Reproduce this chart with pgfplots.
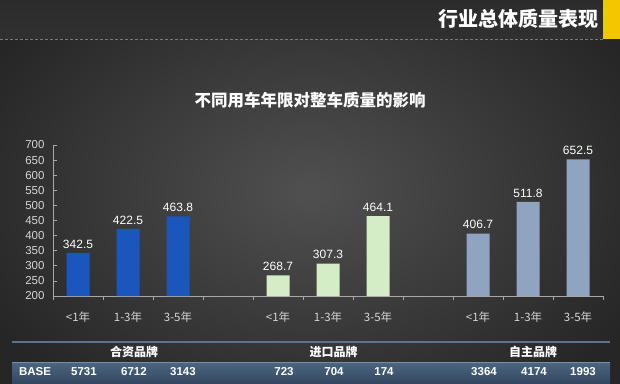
\documentclass[border=0pt]{standalone}
\usepackage{pgfplots}
\pgfplotsset{compat=1.18}
\usepackage{fontspec}
\setmainfont{Liberation Sans}
\newfontfamily\cjk{Noto Sans CJK SC}
\definecolor{cblue}{HTML}{1A56BC}
\definecolor{cgreen}{HTML}{D5EDC6}
\definecolor{cgrey}{HTML}{8EA4C0}
\definecolor{ticktxt}{HTML}{D6D6D6}
\definecolor{axgray}{HTML}{A8A8A8}
\definecolor{bgin}{HTML}{505050}
\definecolor{bgout}{HTML}{262626}
\definecolor{hdr}{HTML}{303030}
\definecolor{dashc}{HTML}{7A7A7A}
\definecolor{ylw}{HTML}{F4C600}
\definecolor{sepc}{HTML}{5A7390}
\definecolor{bandtop}{HTML}{4B6683}
\definecolor{bandbot}{HTML}{33485F}
\definecolor{bandline}{HTML}{7590AE}
\begin{document}
\begin{tikzpicture}[x=1pt,y=1pt]
% background
\shade[inner color=bgin, outer color=bgout] (-60,-60) rectangle (680,443);
\shade[top color=hdr!90!black, bottom color=hdr] (0,344) rectangle (620,383);
\draw[dashc, line width=0.7pt, dash pattern=on 3pt off 2pt] (0,344) -- (603,344);
\fill[ylw] (603,344) rectangle (620,383);
\node[anchor=east, white, inner sep=0pt, font=\cjk\bfseries\fontsize{20}{20}\selectfont] at (599,364) {行业总体质量表现};
\node[white, inner sep=0pt, font=\cjk\bfseries\fontsize{16.5}{16.5}\selectfont] at (310,283) {不同用车年限对整车质量的影响};

\begin{axis}[
  at={(53pt,87pt)}, anchor=south west,
  scale only axis, width=550pt, height=151pt,
  xmin=-0.5, xmax=10.5, ymin=200, ymax=700,
  ytick={200,250,...,700},
  xtick={0,1,2,4,5,6,8,9,10},
  xticklabels={<1年,1-3年,3-5年,<1年,1-3年,3-5年,<1年,1-3年,3-5年},
  minor xtick={-0.5,0.5,...,10.5},
  major x tick style={draw=none},
  minor tick length=4pt, major tick length=4pt,
  tick align=inside,
  axis x line*=bottom, axis y line*=left,
  axis line style={draw=axgray, line width=0.8pt},
  every tick/.style={draw=axgray, line width=0.7pt},
  /pgf/number format/assume math mode=true,
  yticklabel style={font=\fontsize{11.5}{11.5}\selectfont, text=ticktxt, xshift=-5pt},
  xticklabel style={font=\cjk\fontsize{11.5}{11.5}\selectfont, text=ticktxt, yshift=-8pt},
  ytick pos=left,
  ybar, bar width=23pt, bar shift=0pt,
  nodes near coords={\pgfmathprintnumber[fixed,fixed zerofill,precision=1]{\pgfplotspointmeta}},
  every node near coord/.append style={text=white, font=\fontsize{12}{12}\selectfont, yshift=1pt},
]
\addplot[fill=cblue, draw=none] coordinates {(0,342.5) (1,422.5) (2,463.8)};
\addplot[fill=cgreen, draw=none] coordinates {(4,268.7) (5,307.3) (6,464.1)};
\addplot[fill=cgrey, draw=none] coordinates {(8,406.7) (9,511.8) (10,652.5)};
\end{axis}

% bottom table
\draw[sepc, line width=1.2pt] (12,41) -- (610,41);
\shade[top color=bandtop, bottom color=bandbot] (12,0) rectangle (610,21);
\draw[bandline, line width=0.8pt] (12,21) -- (610,21);
\begin{scope}[every node/.style={white, inner sep=0pt}]
\node[font=\cjk\bfseries\fontsize{12}{12}\selectfont] at (134,31) {合资品牌};
\node[font=\cjk\bfseries\fontsize{12}{12}\selectfont] at (333.5,31) {进口品牌};
\node[font=\cjk\bfseries\fontsize{12}{12}\selectfont] at (533,31) {自主品牌};
\node[font=\bfseries\fontsize{11.5}{11.5}\selectfont] at (35,11) {BASE};
\node[font=\bfseries\fontsize{11.5}{11.5}\selectfont] at (84,11) {5731};
\node[font=\bfseries\fontsize{11.5}{11.5}\selectfont] at (134,11) {6712};
\node[font=\bfseries\fontsize{11.5}{11.5}\selectfont] at (183,11) {3143};
\node[font=\bfseries\fontsize{11.5}{11.5}\selectfont] at (284,11) {723};
\node[font=\bfseries\fontsize{11.5}{11.5}\selectfont] at (334,11) {704};
\node[font=\bfseries\fontsize{11.5}{11.5}\selectfont] at (384,11) {174};
\node[font=\bfseries\fontsize{11.5}{11.5}\selectfont] at (484,11) {3364};
\node[font=\bfseries\fontsize{11.5}{11.5}\selectfont] at (534,11) {4174};
\node[font=\bfseries\fontsize{11.5}{11.5}\selectfont] at (583,11) {1993};
\end{scope}
\pgfresetboundingbox
\useasboundingbox (0,0) rectangle (620,383);
\end{tikzpicture}
\end{document}
